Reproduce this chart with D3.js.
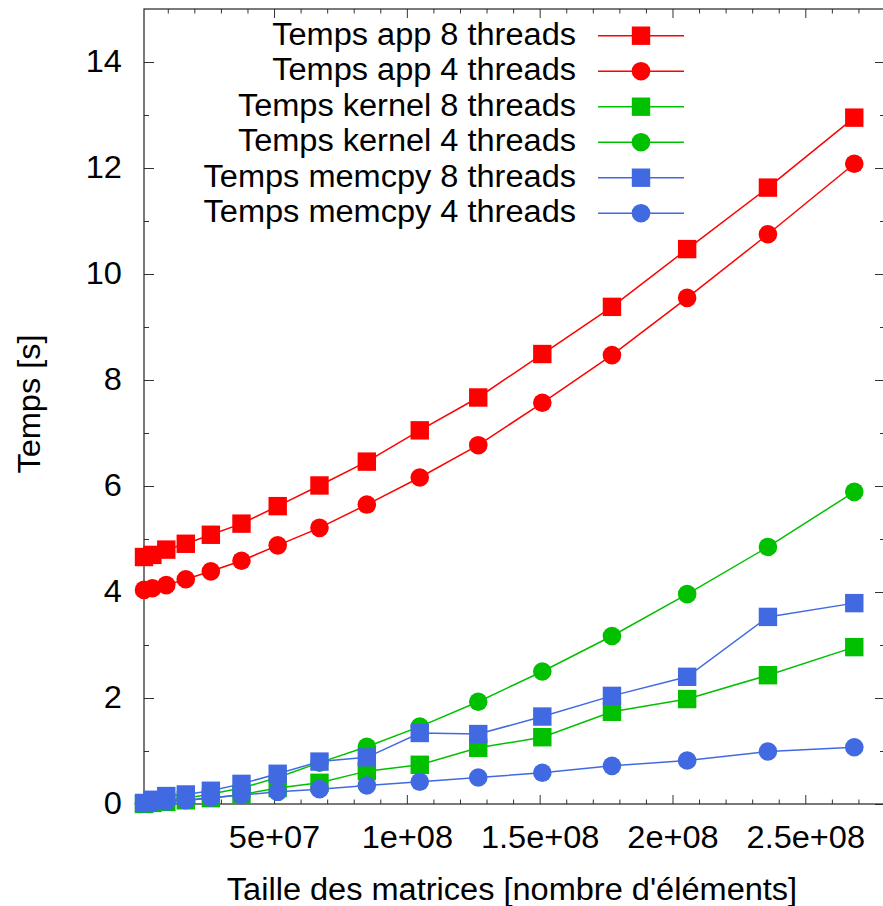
<!DOCTYPE html>
<html>
<head>
<meta charset="utf-8">
<script src="https://cdn.jsdelivr.net/npm/d3@7"></script>
<style>
  body { margin: 0; background: #fff; }
  svg { display: block; font-family: "Liberation Sans", Arial, sans-serif; }
</style>
</head>
<body>
<svg id="chart"></svg>
<script>
// matrix sizes (N*N elements, N = 1024..16384)
const tailles = [1048576, 4194304, 9437184, 16777216, 26214400, 37748736, 51380224, 67108864,
  84934656, 104857600, 126877696, 150994944, 177209344, 205520896, 235929600, 268435456];

const app8 = [4.66, 4.70, 4.80, 4.91, 5.08, 5.29, 5.62, 6.01, 6.46, 7.05, 7.67, 8.49, 9.38, 10.47, 11.63, 12.95];
const app4 = [4.04, 4.07, 4.13, 4.24, 4.39, 4.59, 4.88, 5.21, 5.65, 6.16, 6.77, 7.57, 8.47, 9.55, 10.75, 12.08];
const kernel8 = [0.00, 0.02, 0.04, 0.07, 0.11, 0.18, 0.30, 0.40, 0.62, 0.74, 1.06, 1.26, 1.74, 1.98, 2.43, 2.96];
const kernel4 = [0.01, 0.03, 0.06, 0.11, 0.19, 0.30, 0.50, 0.78, 1.08, 1.46, 1.93, 2.50, 3.17, 3.96, 4.85, 5.89];
const memcpy8 = [0.02, 0.08, 0.15, 0.18, 0.25, 0.38, 0.57, 0.80, 0.88, 1.34, 1.32, 1.65, 2.04, 2.40, 3.53, 3.79];
const memcpy4 = [0.01, 0.02, 0.05, 0.07, 0.12, 0.17, 0.23, 0.28, 0.35, 0.42, 0.50, 0.59, 0.72, 0.82, 0.99, 1.07];

const seriesNames = ["Temps app 8 threads", "Temps app 4 threads", "Temps kernel 8 threads",
  "Temps kernel 4 threads", "Temps memcpy 8 threads", "Temps memcpy 4 threads"];

const xTickValues = [5e7, 1e8, 1.5e8, 2e8, 2.5e8];
const xTickLabels = ["5e+07", "1e+08", "1.5e+08", "2e+08", "2.5e+08"];
const yTickValues = [0, 2, 4, 6, 8, 10, 12, 14];

// styles
const series = [
  { name: seriesNames[0], values: app8, color: "#ff0000", shape: "square" },
  { name: seriesNames[1], values: app4, color: "#ff0000", shape: "circle" },
  { name: seriesNames[2], values: kernel8, color: "#00c000", shape: "square" },
  { name: seriesNames[3], values: kernel4, color: "#00c000", shape: "circle" },
  { name: seriesNames[4], values: memcpy8, color: "#4169e1", shape: "square" },
  { name: seriesNames[5], values: memcpy4, color: "#4169e1", shape: "circle" }
];

const W = 883, H = 906;
const mLeft = 144, mRight = 885, mTop = 9, mBottom = 804;
const fs = 31, sx = 1.05;   // font size, horizontal stretch of the text

const svg = d3.select("#chart").attr("width", W).attr("height", H);

const x = d3.scaleLinear().domain([1048576, 2.8e8]).range([mLeft, mRight]);
const y = d3.scaleLinear().domain([0, 15]).range([mBottom, mTop]);

const xMinor = d3.range(1e7, 2.8e8, 1e7).filter(v => v % 5e7 !== 0);
const yMinor = [1, 3, 5, 7, 9, 11, 13];

function clean(g) {
  g.select(".domain").remove();
  g.selectAll(".tick line").attr("stroke", "#333").attr("stroke-width", 1);
}

// left axis with labels
svg.append("g")
  .attr("transform", `translate(${mLeft},0)`)
  .call(d3.axisLeft(y).tickValues(yTickValues).tickSizeInner(-10).tickSizeOuter(0).tickPadding(21))
  .call(clean)
  .call(g => g.selectAll("text")
    .attr("font-size", fs).attr("fill", "#000").attr("font-family", null)
    .attr("transform", `scale(${sx},1)`));
svg.append("g")
  .attr("transform", `translate(${mLeft},0)`)
  .call(d3.axisLeft(y).tickValues(yMinor).tickSizeInner(-5).tickSizeOuter(0).tickFormat(""))
  .call(clean);

// right mirror
svg.append("g")
  .attr("transform", `translate(${mRight},0)`)
  .call(d3.axisRight(y).tickValues(yTickValues).tickSizeInner(-10).tickSizeOuter(0).tickFormat(""))
  .call(clean);
svg.append("g")
  .attr("transform", `translate(${mRight},0)`)
  .call(d3.axisRight(y).tickValues(yMinor).tickSizeInner(-5).tickSizeOuter(0).tickFormat(""))
  .call(clean);

// bottom axis with labels
svg.append("g")
  .attr("transform", `translate(0,${mBottom})`)
  .call(d3.axisBottom(x).tickValues(xTickValues).tickSizeInner(-9).tickSizeOuter(0).tickPadding(22)
    .tickFormat((d, i) => xTickLabels[i]))
  .call(clean)
  .call(g => g.selectAll("text")
    .attr("font-size", fs).attr("fill", "#000").attr("font-family", null)
    .attr("transform", `scale(${sx},1)`));
svg.append("g")
  .attr("transform", `translate(0,${mBottom})`)
  .call(d3.axisBottom(x).tickValues(xMinor).tickSizeInner(-4.5).tickSizeOuter(0).tickFormat(""))
  .call(clean);

// top mirror
svg.append("g")
  .attr("transform", `translate(0,${mTop})`)
  .call(d3.axisTop(x).tickValues(xTickValues).tickSizeInner(-9).tickSizeOuter(0).tickFormat(""))
  .call(clean);
svg.append("g")
  .attr("transform", `translate(0,${mTop})`)
  .call(d3.axisTop(x).tickValues(xMinor).tickSizeInner(-4.5).tickSizeOuter(0).tickFormat(""))
  .call(clean);

// frame
svg.append("rect")
  .attr("x", mLeft).attr("y", mTop)
  .attr("width", mRight - mLeft).attr("height", mBottom - mTop)
  .attr("fill", "none").attr("stroke", "#222").attr("stroke-width", 1.2);

// axis titles
svg.append("g")
  .attr("transform", `translate(40,404) rotate(-90) scale(${sx},1)`)
  .append("text")
  .attr("text-anchor", "middle").attr("font-size", fs)
  .text("Temps [s]");

svg.append("g")
  .attr("transform", `translate(512,900) scale(${sx},1)`)
  .append("text")
  .attr("text-anchor", "middle").attr("font-size", fs)
  .text("Taille des matrices [nombre d'éléments]");

// markers
function marker(g, shape, color, cx, cy) {
  if (shape === "square") {
    g.append("rect")
      .attr("x", cx - 9.2).attr("y", cy - 9.2)
      .attr("width", 18.4).attr("height", 18.4)
      .attr("fill", color);
  } else {
    g.append("circle")
      .attr("cx", cx).attr("cy", cy).attr("r", 9.3)
      .attr("fill", color);
  }
}

const line = d3.line()
  .x((d, i) => x(tailles[i]))
  .y(d => y(d));

const plot = svg.append("g");

series.forEach(s => {
  const g = plot.append("g");
  g.append("path")
    .datum(s.values)
    .attr("d", line)
    .attr("fill", "none")
    .attr("stroke", s.color)
    .attr("stroke-width", 1.5);
  s.values.forEach((v, i) => marker(g, s.shape, s.color, x(tailles[i]), y(v)));
});

// legend
const legend = svg.append("g");
series.forEach((s, i) => {
  const ly = 35.7 + i * 35.5;
  legend.append("g")
    .attr("transform", `translate(576,${ly + 8.8}) scale(${sx},1)`)
    .append("text")
    .attr("text-anchor", "end").attr("font-size", fs)
    .text(s.name);
  legend.append("line")
    .attr("x1", 598).attr("x2", 684)
    .attr("y1", ly).attr("y2", ly)
    .attr("stroke", s.color).attr("stroke-width", 1.5);
  marker(legend, s.shape, s.color, 641, ly);
});
</script>
</body>
</html>
